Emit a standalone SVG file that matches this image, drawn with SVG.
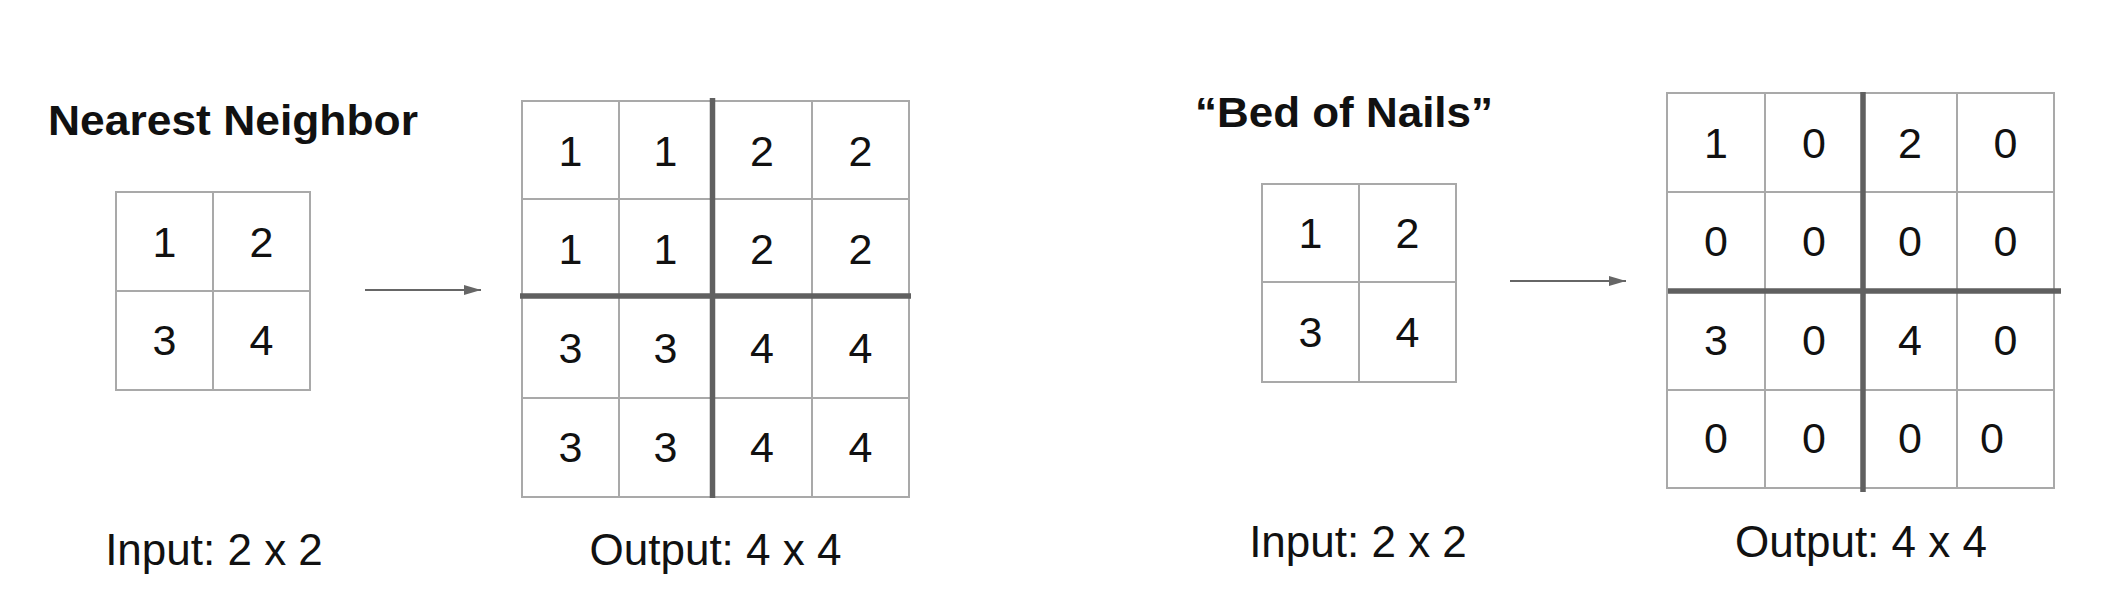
<svg xmlns="http://www.w3.org/2000/svg" width="2106" height="606" viewBox="0 0 2106 606">
<defs>
<style>
.bg{fill:#ffffff}
.grid{fill:none;stroke:#a9a9a9;stroke-width:2}
.thick{stroke:#606060;stroke-width:5.5;fill:none}
.num{font-family:"Liberation Sans",Arial,sans-serif;font-size:43px;fill:#111;text-anchor:middle}
.lbl{font-family:"Liberation Sans",Arial,sans-serif;font-size:44px;fill:#111;text-anchor:middle}
.title{font-family:"Liberation Sans",Arial,sans-serif;font-size:43px;font-weight:bold;fill:#111}
.conn{stroke:#666;stroke-width:2;fill:none}
</style>
<marker id="ah" viewBox="0 0 17 10" refX="17" refY="5" markerWidth="17" markerHeight="10" markerUnits="userSpaceOnUse" orient="auto">
<path d="M0,0 L17,5 L0,10 z" fill="#666"/>
</marker>
</defs>
<rect class="bg" x="0" y="0" width="2106" height="606"/>

<g id="title-nearest">
<text class="title" x="48" y="135" textLength="370" lengthAdjust="spacingAndGlyphs">Nearest Neighbor</text>
</g>

<g id="nn-input">
<rect class="grid" x="116" y="192" width="194" height="198"/>
<path class="grid" d="M213,192 V390 M116,291 H310"/>
<text class="num" x="164.5" y="257">1</text>
<text class="num" x="261.5" y="257">2</text>
<text class="num" x="164.5" y="355">3</text>
<text class="num" x="261.5" y="355">4</text>
</g>

<g id="nn-output">
<rect class="grid" x="522" y="101" width="387" height="396"/>
<path class="grid" d="M619,101 V497 M812,101 V497 M522,199 H909 M522,398 H909"/>
<path class="thick" d="M712.5,98 V498 M520,296 H911"/>
<text class="num" x="570.5" y="166">1</text>
<text class="num" x="665.5" y="166">1</text>
<text class="num" x="762" y="166">2</text>
<text class="num" x="860.5" y="166">2</text>
<text class="num" x="570.5" y="264">1</text>
<text class="num" x="665.5" y="264">1</text>
<text class="num" x="762" y="264">2</text>
<text class="num" x="860.5" y="264">2</text>
<text class="num" x="570.5" y="363">3</text>
<text class="num" x="665.5" y="363">3</text>
<text class="num" x="762" y="363">4</text>
<text class="num" x="860.5" y="363">4</text>
<text class="num" x="570.5" y="462">3</text>
<text class="num" x="665.5" y="462">3</text>
<text class="num" x="762" y="462">4</text>
<text class="num" x="860.5" y="462">4</text>
</g>

<g id="nn-labels">
<text class="lbl" x="214" y="565">Input: 2 x 2</text>
<text class="lbl" x="715.5" y="565">Output: 4 x 4</text>
</g>

<g id="title-bed">
<text class="title" x="1195" y="127" textLength="298" lengthAdjust="spacingAndGlyphs">“Bed of Nails”</text>
</g>

<g id="bon-input">
<rect class="grid" x="1262" y="184" width="194" height="198"/>
<path class="grid" d="M1359,184 V382 M1262,282 H1456"/>
<text class="num" x="1310.5" y="248">1</text>
<text class="num" x="1407.5" y="248">2</text>
<text class="num" x="1310.5" y="347">3</text>
<text class="num" x="1407.5" y="347">4</text>
</g>

<g id="bon-output">
<rect class="grid" x="1667" y="93" width="387" height="395"/>
<path class="grid" d="M1765,93 V488 M1957,93 V488 M1667,192 H2054 M1667,390 H2054"/>
<path class="thick" d="M1863,92 V492 M1668,291 H2061"/>
<text class="num" x="1716" y="158">1</text>
<text class="num" x="1814" y="158">0</text>
<text class="num" x="1910" y="158">2</text>
<text class="num" x="2005.5" y="158">0</text>
<text class="num" x="1716" y="256">0</text>
<text class="num" x="1814" y="256">0</text>
<text class="num" x="1910" y="256">0</text>
<text class="num" x="2005.5" y="256">0</text>
<text class="num" x="1716" y="355">3</text>
<text class="num" x="1814" y="355">0</text>
<text class="num" x="1910" y="355">4</text>
<text class="num" x="2005.5" y="355">0</text>
<text class="num" x="1716" y="453">0</text>
<text class="num" x="1814" y="453">0</text>
<text class="num" x="1910" y="453">0</text>
<text class="num" x="1992" y="453">0</text>
</g>

<g id="bon-labels">
<text class="lbl" x="1358" y="557">Input: 2 x 2</text>
<text class="lbl" x="1861" y="557">Output: 4 x 4</text>
</g>

<g id="connectors">
<line class="conn" x1="365" y1="290" x2="481" y2="290" marker-end="url(#ah)"/>
<line class="conn" x1="1510" y1="281" x2="1626" y2="281" marker-end="url(#ah)"/>
</g>
</svg>
